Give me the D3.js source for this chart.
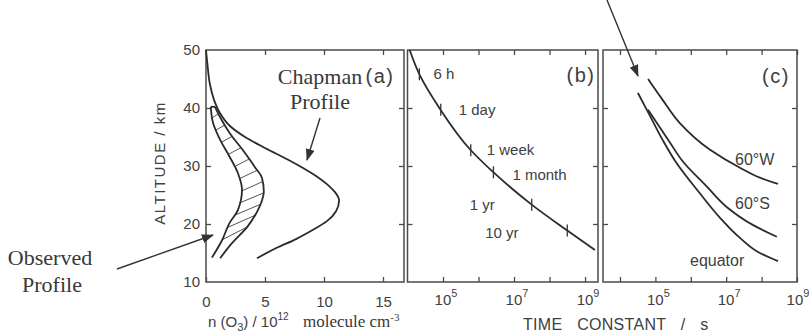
<!DOCTYPE html>
<html lang="en">
<head>
<meta charset="UTF-8">
<title>Ozone profiles and time constants</title>
<script src="https://cdn.jsdelivr.net/npm/d3@7"></script>
<style>
  body { margin: 0; background: #fff; }
  svg { display: block; }
  .sans { font-family: "Liberation Sans", Arial, sans-serif; fill: #404040; }
  .serif { font-family: "Liberation Serif", "Times New Roman", serif; fill: #383838; }
  .frame { fill: none; stroke: #4a4a4a; stroke-width: 1.5; }
  .curve { fill: none; stroke: #2b2b2b; stroke-width: 1.8; }
  .hatch { stroke: #555; stroke-width: 1; }
  .axis path { display: none; }
  .axis line { stroke: #4a4a4a; stroke-width: 1.3; }
  .axis text { font-family: "Liberation Sans", Arial, sans-serif; font-size: 15px; fill: #404040; }
  .pointer { stroke: #333; stroke-width: 1.4; fill: none; }
</style>
</head>
<body>
<svg id="chart" width="809" height="335"></svg>
<script>
// ---- data ----
const altTicks = [10, 20, 30, 40, 50];
const nTicks = [0, 5, 10, 15];
const tauTicks = [1e4, 1e5, 1e6, 1e7, 1e8, 1e9];
const tauLabelExp = [5, 7, 9];

// (a) Chapman profile, n(O3) in 1e12 molecule cm-3 vs altitude km
const chapmanN   = [0, 0.13, 0.34, 0.68, 1.19, 2.03, 3.31, 5.0, 7.12, 9.07, 10.5, 10.93, 11.28, 11.02, 10.25, 9.07, 7.63, 6.0, 4.32];
const chapmanAlt = [50, 47.4, 44.0, 41.4, 39.1, 36.9, 35.0, 33.1, 30.9, 28.6, 26.4, 25.5, 24.1, 22.2, 20.5, 19.0, 17.4, 15.9, 14.1];

// (a) observed profile, lower and upper bounds
const obsLowN    = [0.4, 0.6, 1.2, 2.0, 2.7, 3.05, 2.7, 2.0, 1.36, 0.5];
const obsLowAlt  = [40.2, 37.4, 34.5, 31.6, 28.8, 25.9, 22.4, 20.2, 17.2, 14.2];
const obsHighN   = [0.76, 1.2, 2.0, 3.1, 4.15, 4.75, 4.9, 4.7, 4.4, 3.5, 2.2, 1.2];
const obsHighAlt = [40.2, 38.4, 35.7, 32.8, 29.8, 27.9, 25.6, 23.8, 22.4, 19.5, 16.7, 14.1];

// (b) photochemical time constant (s) vs altitude
const tauB = [1.15e4, 2.2e4, 7.9e4, 5.9e5, 2.75e6, 3.2e7, 2.95e8, 1.9e9];
const altB = [50, 45.7, 40.0, 32.8, 28.8, 23.3, 19.0, 15.5];
const eventTau = [21600, 86400, 604800, 2.63e6, 3.156e7, 3.156e8];
const eventNames = ["6 h", "1 day", "1 week", "1 month", "1 yr", "10 yr"];

// (c) transport time constants (s) vs altitude
const tau60W = [6.2e4, 1.6e5, 4.9e5, 3.5e6, 2.45e7, 8.9e7, 2.9e8];
const alt60W = [45.0, 41.4, 37.4, 32.8, 29.7, 28.0, 26.9];
const tau60S = [6.2e4, 2.6e5, 5.6e5, 2.9e6, 1.05e7, 5.8e7, 2.7e8];
const alt60S = [39.7, 34.0, 31.0, 26.4, 22.9, 19.8, 17.8];
const tauEq  = [3.2e4, 6.2e4, 1.6e5, 3.5e5, 1.8e6, 7.1e6, 2.45e7, 8.9e7, 2.9e8];
const altEq  = [42.6, 39.3, 34.5, 31.0, 25.3, 20.9, 17.6, 15.0, 13.6];
const seriesC = ["60°W", "60°S", "equator"];

// ---- layout ----
const svg = d3.select("#chart");
const y = d3.scaleLinear().domain([10, 50]).range([282, 50]);
const xA = d3.scaleLinear().domain([0, 16.78]).range([206, 404]);
const xB = d3.scaleLog().domain([1e4, Math.pow(10, 9.365)]).range([407.5, 598]);
const xC = d3.scaleLog().domain([Math.pow(10, 3.52), 1e9]).range([603, 797]);

const defs = svg.append("defs");
defs.append("marker")
  .attr("id", "head")
  .attr("viewBox", "0 0 12 9")
  .attr("refX", 11).attr("refY", 4.5)
  .attr("markerUnits", "userSpaceOnUse")
  .attr("markerWidth", 12).attr("markerHeight", 9)
  .attr("orient", "auto")
  .append("path").attr("d", "M0,0 L12,4.5 L0,9 Z").attr("fill", "#333");

function frame(x) {
  const [x0, x1] = x.range();
  svg.append("rect").attr("class", "frame")
    .attr("x", x0).attr("y", y(50)).attr("width", x1 - x0).attr("height", y(10) - y(50));
  // inner ticks on both sides
  svg.append("g").attr("class", "axis").attr("transform", `translate(${x0},0)`)
    .call(d3.axisLeft(y).tickValues([20, 30, 40]).tickSize(-5).tickFormat(""));
  svg.append("g").attr("class", "axis").attr("transform", `translate(${x1},0)`)
    .call(d3.axisRight(y).tickValues([20, 30, 40]).tickSize(-5).tickFormat(""));
}

// every curve is single valued in altitude, so monotoneY keeps them smooth
function lineOf(x, xs, ys) {
  return d3.line().x(d => x(d[0])).y(d => y(d[1])).curve(d3.curveMonotoneY)(d3.zip(xs, ys));
}

// ---- panel (a) ----
frame(xA);
svg.append("g").attr("class", "axis").attr("transform", `translate(${xA.range()[0]},0)`)
  .call(d3.axisLeft(y).tickValues(altTicks).tickSize(0).tickPadding(6));
svg.append("g").attr("class", "axis").attr("transform", `translate(0,${y(10)})`)
  .call(d3.axisBottom(xA).tickValues(nTicks).tickSize(-5).tickPadding(14));
svg.append("g").attr("class", "axis").attr("transform", `translate(0,${y(50)})`)
  .call(d3.axisTop(xA).tickValues(nTicks.slice(1)).tickSize(-5).tickFormat(""));

// hatching between the observed bounds
const lowAt = d3.scaleLinear().domain(obsLowAlt).range(obsLowN);
const highAt = d3.scaleLinear().domain(obsHighAlt).range(obsHighN);
const rise = h => h + 0.6 + (40 - h) * 0.07;
svg.append("g").selectAll("line")
  .data(d3.range(38.3, 15.5, -2.1))
  .join("line")
  .attr("class", "hatch")
  .attr("x1", h => xA(lowAt(h))).attr("y1", h => y(h))
  .attr("x2", h => xA(highAt(rise(h)))).attr("y2", h => y(rise(h)));

svg.append("path").attr("class", "curve").attr("d", lineOf(xA, obsLowN, obsLowAlt));
svg.append("path").attr("class", "curve").attr("d", lineOf(xA, obsHighN, obsHighAlt));
svg.append("line").attr("class", "curve")
  .attr("x1", xA(obsLowN[0])).attr("y1", y(obsLowAlt[0]))
  .attr("x2", xA(obsHighN[0])).attr("y2", y(obsHighAlt[0]));
svg.append("path").attr("class", "curve").attr("d", lineOf(xA, chapmanN, chapmanAlt));

svg.append("text").attr("class", "sans").attr("x", 380).attr("y", 83)
  .attr("text-anchor", "middle").attr("font-size", 20).attr("letter-spacing", 1.5).text("(a)");

// ---- panel (b) ----
function logAxes(x) {
  const ticks = tauTicks.filter(t => t > x.domain()[0] * 1.01);
  svg.append("g").attr("class", "axis").attr("transform", `translate(0,${y(10)})`)
    .call(d3.axisBottom(x).tickValues(ticks).tickSize(-5).tickFormat(""));
  svg.append("g").attr("class", "axis").attr("transform", `translate(0,${y(50)})`)
    .call(d3.axisTop(x).tickValues(ticks).tickSize(-5).tickFormat(""));
  const lab = svg.append("g").selectAll("text")
    .data(tauLabelExp)
    .join("text")
    .attr("class", "sans").attr("font-size", 15)
    .attr("x", e => Math.min(x(Math.pow(10, e)) + 3, 798)).attr("y", 305)
    .attr("text-anchor", "middle");
  lab.append("tspan").text("10");
  lab.append("tspan").attr("font-size", 11).attr("dy", -8).text(e => e);
}

frame(xB);
logAxes(xB);
svg.append("path").attr("class", "curve").attr("d", lineOf(xB, tauB, altB));

const altOnB = d3.scaleLog().domain(tauB).range(altB);
const eventDx = [14, 18, 16, 19, -62, -82];
const eventDy = [0, 0, 0, 2, 0, 2];
const ev = svg.append("g").selectAll("g")
  .data(eventTau)
  .join("g")
  .attr("transform", t => `translate(${xB(t)},${y(altOnB(t))})`);
ev.append("line").attr("y1", -6).attr("y2", 6).attr("stroke", "#333").attr("stroke-width", 1.3);
ev.append("text").attr("class", "sans").attr("font-size", 15)
  .attr("x", (t, i) => eventDx[i]).attr("y", (t, i) => eventDy[i]).attr("dy", "0.35em")
  .text((t, i) => eventNames[i]);

svg.append("text").attr("class", "sans").attr("x", 581).attr("y", 82)
  .attr("text-anchor", "middle").attr("font-size", 20).attr("letter-spacing", 1.5).text("(b)");

// ---- panel (c) ----
frame(xC);
logAxes(xC);
const cTau = [tau60W, tau60S, tauEq];
const cAlt = [alt60W, alt60S, altEq];
cTau.forEach((t, i) => {
  svg.append("path").attr("class", "curve").attr("d", lineOf(xC, t, cAlt[i]));
});
const cLabelPos = [[735, 165], [735, 209], [690, 266]];
svg.append("g").selectAll("text")
  .data(seriesC)
  .join("text")
  .attr("class", "sans").attr("font-size", 16)
  .attr("x", (d, i) => cLabelPos[i][0]).attr("y", (d, i) => cLabelPos[i][1])
  .text(d => d);
svg.append("text").attr("class", "sans").attr("x", 776).attr("y", 83)
  .attr("text-anchor", "middle").attr("font-size", 20).attr("letter-spacing", 1.5).text("(c)");

// ---- axis titles ----
svg.append("text").attr("class", "sans").attr("font-size", 15).attr("letter-spacing", 1.5)
  .attr("text-anchor", "middle")
  .attr("transform", "translate(165,163) rotate(-90)")
  .text("ALTITUDE / km");

svg.append("text").attr("class", "sans").attr("font-size", 16)
  .attr("letter-spacing", 0.3).attr("word-spacing", 10)
  .attr("x", 523).attr("y", 330)
  .text("TIME CONSTANT / s");

const xt = svg.append("text").attr("class", "sans").attr("font-size", 15).attr("x", 208).attr("y", 327);
xt.append("tspan").text("n (O");
xt.append("tspan").attr("font-size", 11).attr("dy", 4).text("3");
xt.append("tspan").attr("dy", -4).text(") / 10");
xt.append("tspan").attr("font-size", 10).attr("dy", -7).text("12");
xt.append("tspan").attr("class", "serif").attr("font-family", "Liberation Serif, serif")
  .attr("font-size", 17).attr("x", 303).attr("dy", 7).text("molecule cm");
xt.append("tspan").attr("font-family", "Liberation Serif, serif")
  .attr("font-size", 11).attr("dy", -6).text("-3");

// ---- annotations ----
svg.append("text").attr("class", "serif").attr("font-size", 22)
  .attr("x", 320).attr("y", 84).attr("text-anchor", "middle").text("Chapman");
svg.append("text").attr("class", "serif").attr("font-size", 22)
  .attr("x", 320).attr("y", 109).attr("text-anchor", "middle").text("Profile");
svg.append("text").attr("class", "serif").attr("font-size", 22)
  .attr("x", 50).attr("y", 265).attr("text-anchor", "middle").text("Observed");
svg.append("text").attr("class", "serif").attr("font-size", 22)
  .attr("x", 52).attr("y", 292).attr("text-anchor", "middle").text("Profile");

svg.append("line").attr("class", "pointer").attr("marker-end", "url(#head)")
  .attr("x1", 320).attr("y1", 118).attr("x2", 307).attr("y2", 160);
svg.append("line").attr("class", "pointer").attr("marker-end", "url(#head)")
  .attr("x1", 117).attr("y1", 269).attr("x2", 213).attr("y2", 235);
svg.append("line").attr("class", "pointer").attr("marker-end", "url(#head)")
  .attr("x1", 607).attr("y1", 0).attr("x2", 638).attr("y2", 76);
</script>
</body>
</html>
